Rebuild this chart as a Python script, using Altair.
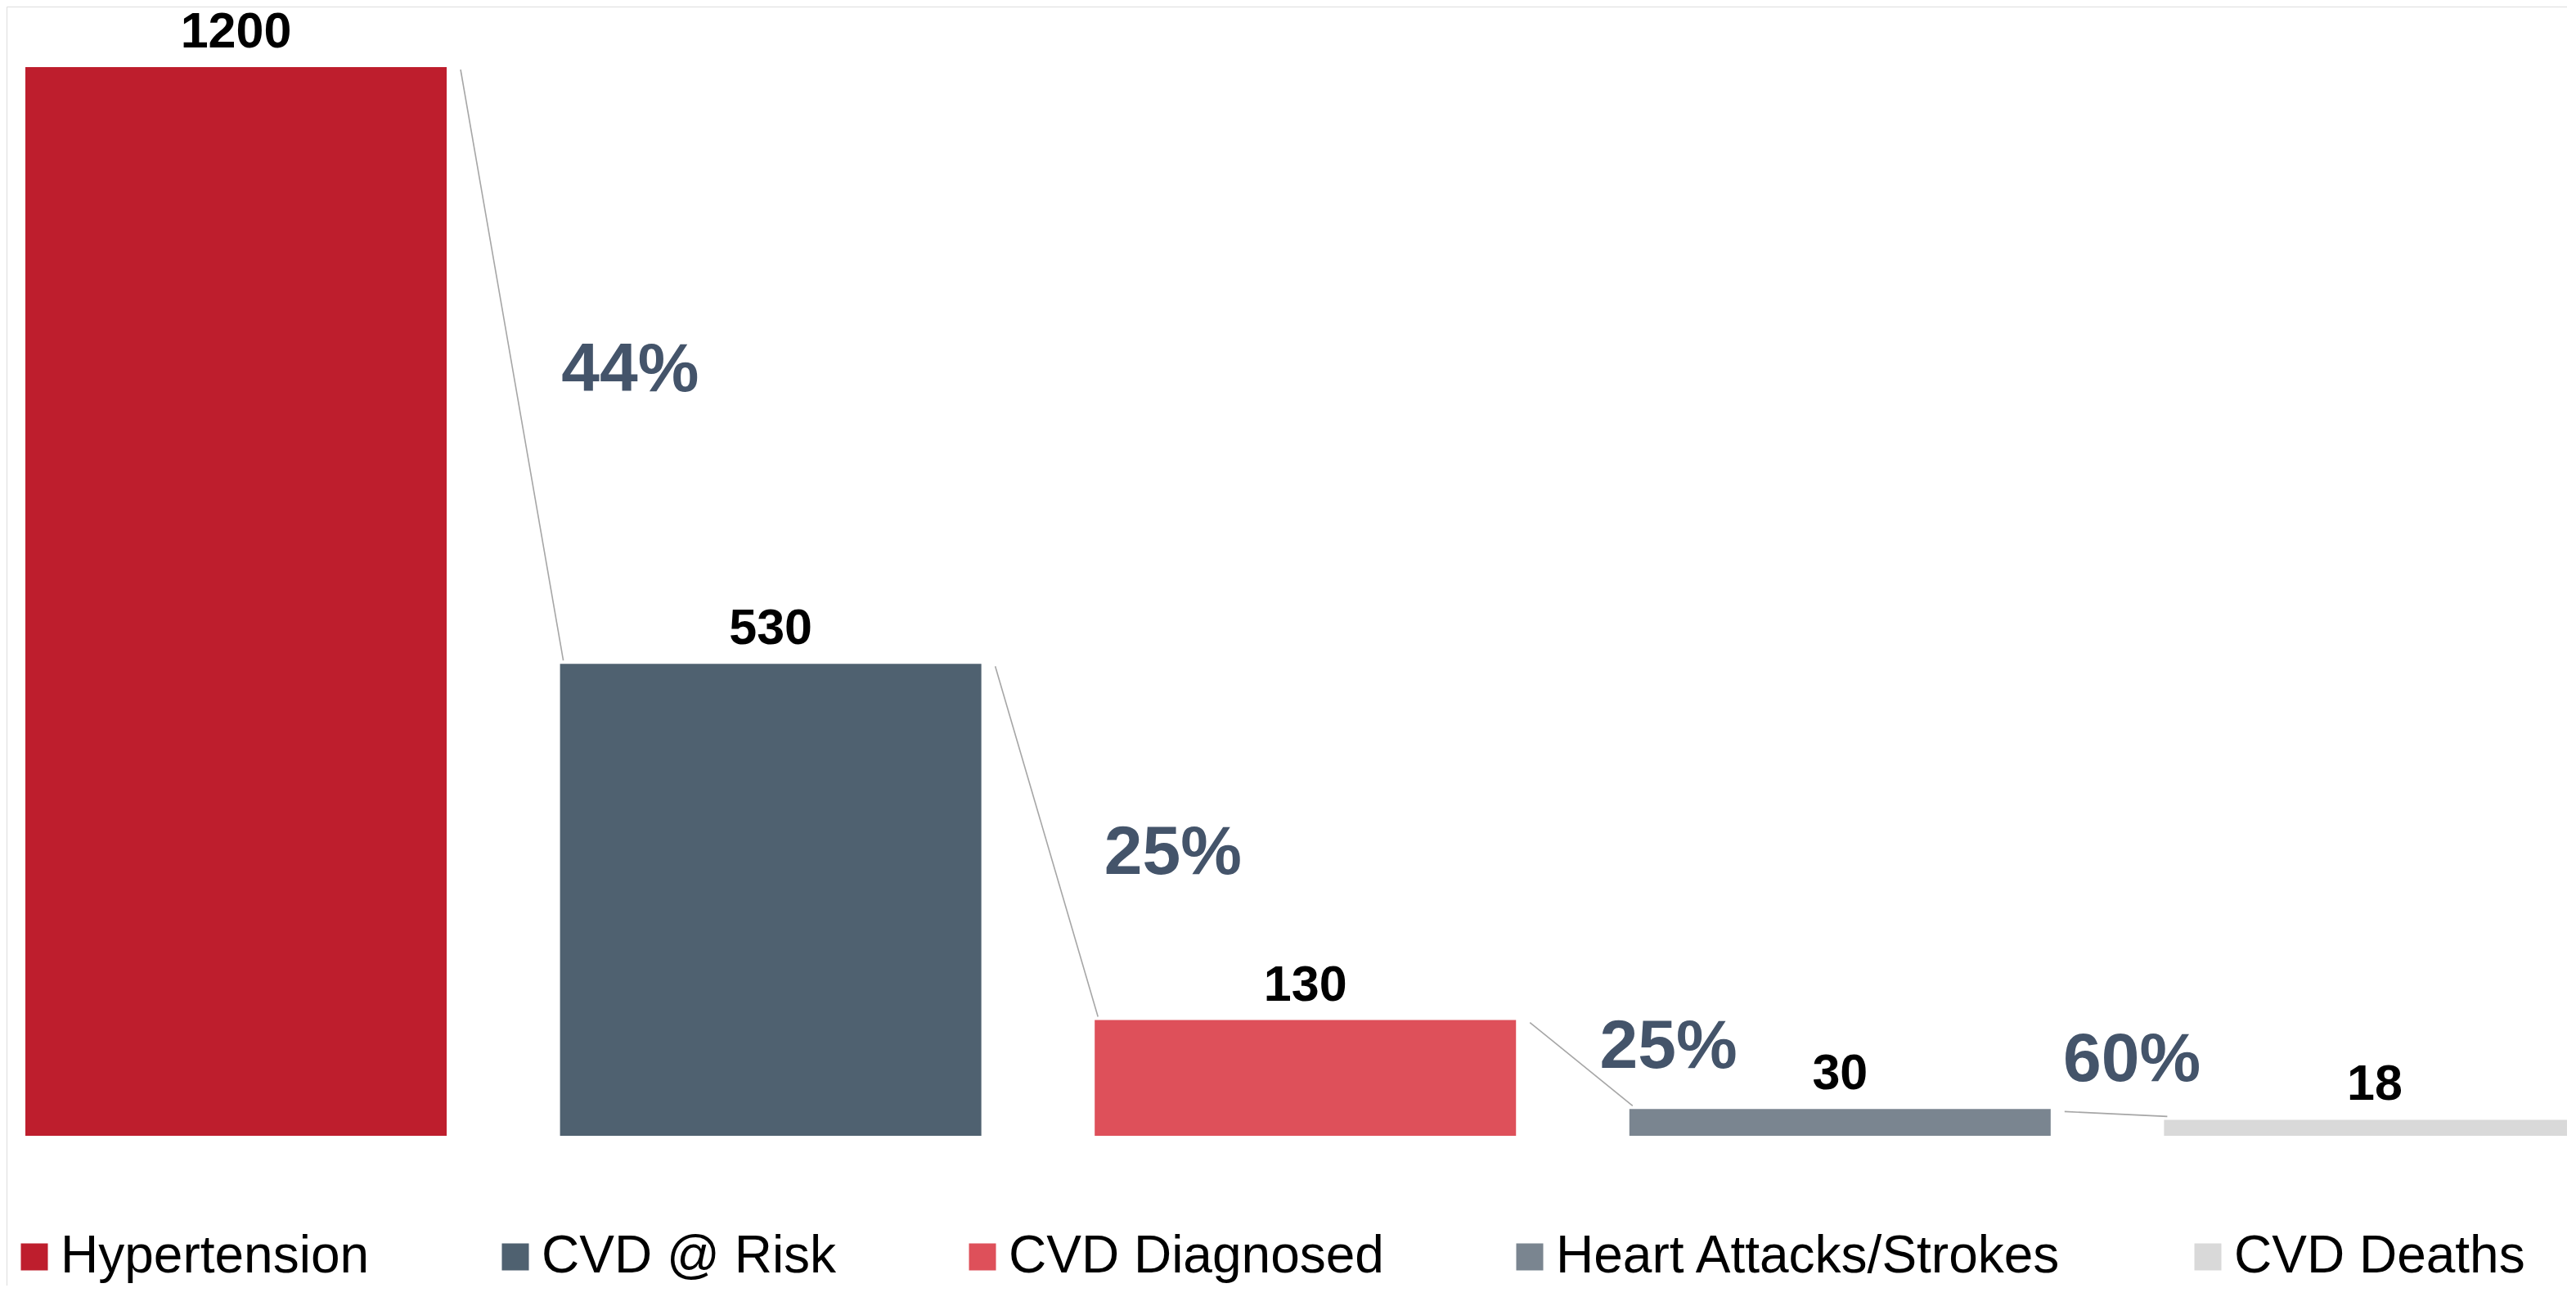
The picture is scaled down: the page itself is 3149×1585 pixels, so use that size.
import altair as alt
import pandas as pd

categories = ["Hypertension", "CVD @ Risk", "CVD Diagnosed", "Heart Attacks/Strokes", "CVD Deaths"]
values = [1200, 530, 130, 30, 18]
colors = ["#BE1E2D", "#4F6170", "#DE505A", "#7A8590", "#D9D9D9"]
pct_labels = ["44%", "25%", "25%", "60%"]

HALF = 0.394
W, H = 3130, 1563
XDOM = [-0.4292, 4.3597]
# bottom of bars at plot y=1380, 1200 at plot y=74 (1.08833 px per unit)
YDOM = [-(H - 1380) / 1.08833, 1380 / 1.08833]

bars_df = pd.DataFrame({"category": categories, "value": values, "idx": list(range(len(categories)))})
conn_df = pd.DataFrame({
    "idx": list(range(len(categories) - 1)),
    "v0": values[:-1],
    "v1": values[1:],
    "label": pct_labels,
})

xs = alt.Scale(domain=XDOM, nice=False, zero=False)
ys = alt.Scale(domain=YDOM, nice=False, zero=False)

base = alt.Chart(bars_df)

bars = base.mark_bar(clip=True).transform_calculate(
    xa=f"datum.idx - {HALF}", xb=f"datum.idx + {HALF}"
).encode(
    x=alt.X("xa:Q", scale=xs, axis=None),
    x2="xb:Q",
    y=alt.Y("value:Q", scale=ys, axis=None),
    y2=alt.datum(0),
    color=alt.Color(
        "category:N",
        scale=alt.Scale(domain=categories, range=colors),
        sort=categories,
        legend=alt.Legend(
            orient="none", legendX=2, legendY=1496, direction="horizontal",
            title=None, symbolType="square", symbolSize=1089, symbolStrokeWidth=0,
            symbolOpacity=1, labelFontSize=64, labelFont="Liberation Sans",
            labelColor="black", labelOffset=0, columnPadding=146,
            labelLimit=2000, padding=0, rowPadding=0,
        ),
    ),
)

value_text = base.mark_text(
    font="Liberation Sans", fontWeight="bold", fontSize=61, color="black",
    baseline="alphabetic", align="center", dy=-24,
).encode(
    x=alt.X("idx:Q", scale=xs, axis=None),
    y=alt.Y("value:Q", scale=ys, axis=None),
    text="value:Q",
)

conn = alt.Chart(conn_df).mark_rule(
    color="#A6A6A6", strokeWidth=1.6, xOffset=17, x2Offset=4, yOffset=3, y2Offset=-4
).transform_calculate(
    xa=f"datum.idx + {HALF}", xb=f"datum.idx + 1 - {HALF}"
).encode(
    x=alt.X("xa:Q", scale=xs, axis=None),
    x2="xb:Q",
    y=alt.Y("v0:Q", scale=ys, axis=None),
    y2="v1:Q",
)

offsets = [(155, 31), (165, 39), (117, 4), (30, -41)]
pct_layers = []
for i, (dx, dy) in enumerate(offsets):
    pct_layers.append(
        alt.Chart(conn_df).transform_filter(f"datum.idx == {i}").transform_calculate(
            xm="datum.idx + 0.5", ym="(datum.v0 + datum.v1) / 2"
        ).mark_text(
            font="Liberation Sans", fontWeight="bold", fontSize=84, color="#44546A",
            baseline="alphabetic", align="center", dx=dx, dy=dy,
        ).encode(
            x=alt.X("xm:Q", scale=xs, axis=None),
            y=alt.Y("ym:Q", scale=ys, axis=None),
            text="label:N",
        )
    )

chart = alt.layer(bars, conn, value_text, *pct_layers).properties(
    width=W, height=H, padding=0,
    autosize=alt.AutoSizeParams(type="none"),
).configure_view(stroke=None).configure(background="white")

chart.save("out.html", embed_options={"renderer": "svg", "actions": False})
